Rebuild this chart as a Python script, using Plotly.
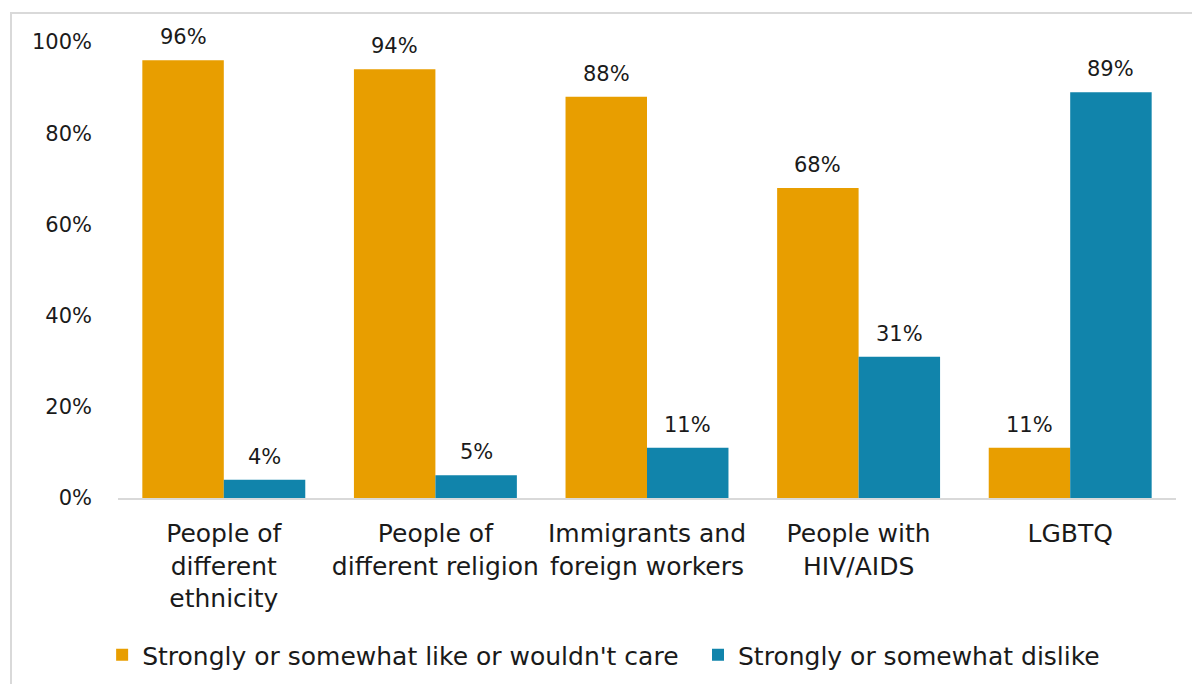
import plotly.graph_objects as go

categories = ["People of<br>different<br>ethnicity", "People of<br>different religion",
              "Immigrants and<br>foreign workers", "People with<br>HIV/AIDS", "LGBTQ"]
like_vals = [96, 94, 88, 68, 11]
dislike_vals = [4, 5, 11, 31, 89]
series_names = ["Strongly or somewhat like or wouldn't care", "Strongly or somewhat dislike"]
tick_vals = [0, 20, 40, 60, 80, 100]
tick_text = ["0%", "20%", "40%", "60%", "80%", "100%"]

FONT = "DejaVu Sans"
ORANGE = "#E89E00"
TEAL = "#1184AB"
TXT = "#1a1a1a"

W, H = 1192, 684
ml, mr, mt, mb = 118, 16, 42, 186
pw, ph = W - ml - mr, H - mt - mb
BARGAP = 0.23
bar_px = pw / len(categories) * (1 - BARGAP) / 2

fig = go.Figure()
fig.add_trace(go.Bar(x=categories, y=like_vals, name=series_names[0], legend="legend",
                     marker=dict(color=ORANGE, line=dict(width=0))))
fig.add_trace(go.Bar(x=categories, y=dislike_vals, name=series_names[1], legend="legend2",
                     marker=dict(color=TEAL, line=dict(width=0))))

annotations = []
for vals, sign in ((like_vals, -1), (dislike_vals, 1)):
    for c, v in zip(categories, vals):
        annotations.append(dict(x=c, y=v, xref="x", yref="y", text=f"{v}%", showarrow=False,
                                xshift=sign * bar_px / 2, yshift=9, yanchor="bottom",
                                font=dict(family=FONT, size=21, color=TXT)))

leg_y = (498 - 655) / ph
leg_common = dict(orientation="h", y=leg_y, yanchor="middle", xanchor="left",
                  font=dict(family=FONT, size=25, color=TXT), itemwidth=30,
                  bgcolor="rgba(0,0,0,0)")

fig.update_layout(
    width=W, height=H,
    margin=dict(l=ml, r=mr, t=mt, b=mb, autoexpand=False),
    paper_bgcolor="white", plot_bgcolor="white",
    barmode="group", bargap=BARGAP, bargroupgap=0,
    font=dict(family=FONT, size=21, color=TXT),
    showlegend=True,
    legend=dict(x=-0.015, **leg_common),
    legend2=dict(x=(713 - 15 - ml) / pw, **leg_common),
    xaxis=dict(showline=True, linecolor="#D9D9D9", linewidth=2, ticks="", showgrid=False,
               ticklabelstandoff=12, automargin=False,
               tickfont=dict(family=FONT, size=25, color=TXT)),
    yaxis=dict(range=[0, 100], tickvals=tick_vals, ticktext=tick_text, showgrid=False,
               zeroline=False, showline=False, ticks="", ticklabelstandoff=25, automargin=False,
               tickfont=dict(family=FONT, size=21, color=TXT)),
    annotations=annotations,
    shapes=[dict(type="rect", xref="paper", yref="paper",
                 x0=(11 - ml) / pw, x1=1.2, y0=-0.6, y1=1 + (mt - 13) / ph,
                 line=dict(color="#D9D9D9", width=2), fillcolor="rgba(0,0,0,0)", layer="below")],
)

fig.write_html("out.html")
